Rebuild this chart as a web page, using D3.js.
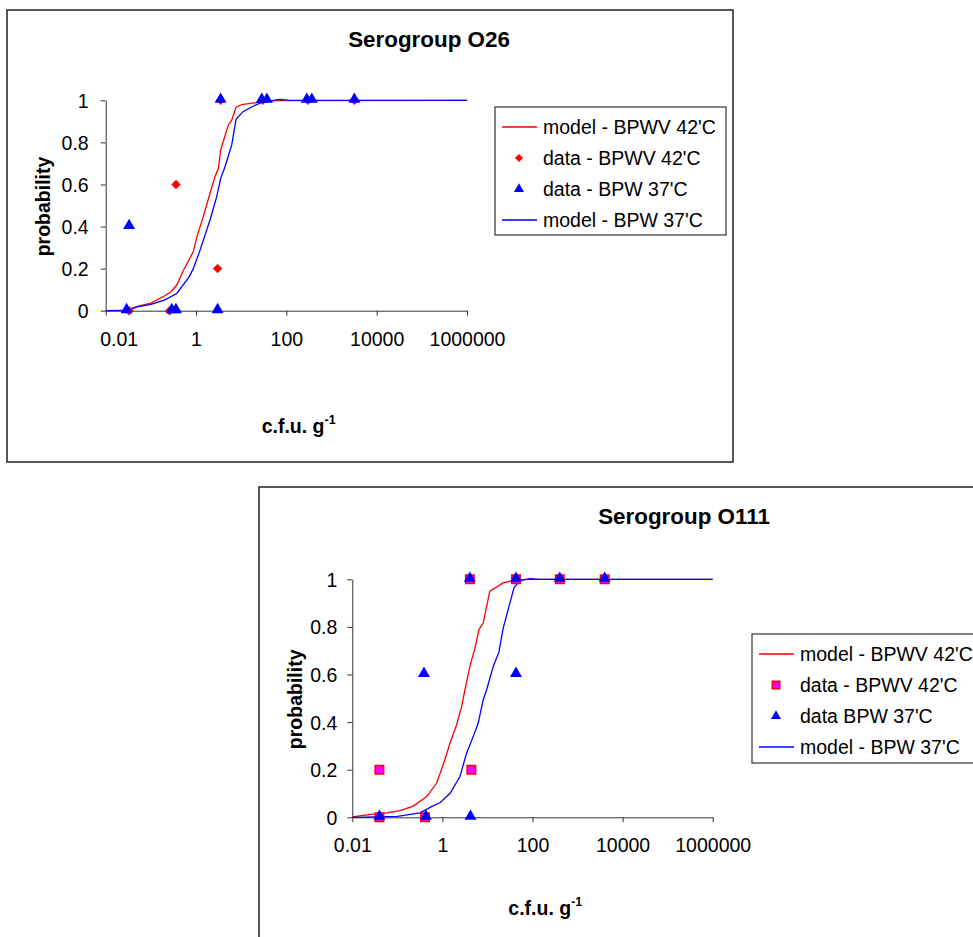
<!DOCTYPE html>
<html>
<head>
<meta charset="utf-8">
<script src="https://cdn.jsdelivr.net/npm/d3@7"></script>
<style>
  html, body { margin: 0; padding: 0; background: #fff; }
  svg { display: block; font-family: "Liberation Sans", Arial, sans-serif; }
</style>
</head>
<body>
<svg id="chart" width="973" height="937"></svg>
<script>
// ---------- shared axis data ----------
const xTickValues = [0.01, 1, 100, 10000, 1000000];
const xTickLabels = ["0.01", "1", "100", "10000", "1000000"];
const yTickValues = [0, 0.2, 0.4, 0.6, 0.8, 1];
const yTickLabels = ["0", "0.2", "0.4", "0.6", "0.8", "1"];
const xAxisTitle = "c.f.u. g";
const xAxisTitleSup = "-1";
const yAxisTitle = "probability";

// ---------- Serogroup O26 ----------
const o26Title = "Serogroup O26";
const o26Legend = ["model - BPWV 42'C", "data - BPWV 42'C", "data - BPW 37'C", "model - BPW 37'C"];
// model curves: [c.f.u. g-1, probability]
const o26ModelBPWV = [[0.01,0],[0.03,0.003],[0.05,0.02],[0.1,0.036],[0.2,0.07],[0.28,0.09],[0.374,0.122],[0.52,0.19],[0.87,0.28],[1.04,0.35],[1.45,0.447],[2.04,0.558],[2.63,0.637],[3.12,0.677],[3.52,0.764],[5.19,0.883],[6.18,0.906],[7.69,0.967],[10.3,0.98],[22.1,0.989],[61,0.998],[1000000,1]];
const o26ModelBPW = [[0.01,0],[0.03,0.002],[0.05,0.018],[0.1,0.03],[0.2,0.05],[0.374,0.082],[0.7,0.16],[0.87,0.2],[1.23,0.288],[2.04,0.431],[2.87,0.542],[3.52,0.629],[4.38,0.684],[6.18,0.788],[7.69,0.91],[11,0.946],[18.6,0.973],[31,0.993],[72,1.004],[121,1],[1000000,1]];
// observed data
const o26DataBPWV = [[0.033,0],[0.26,0],[0.36,0.6],[3.0,0.2],[3.5,1],[30,1],[300,1],[3200,1]];
const o26DataBPW = [[0.029,0],[0.033,0.4],[0.29,0],[0.36,0],[3.0,0],[3.5,1],[28.5,1],[37,1],[283,1],[366,1],[3200,1]];

// ---------- Serogroup O111 ----------
const o111Title = "Serogroup O111";
const o111Legend = ["model - BPWV 42'C", "data - BPWV 42'C", "data BPW 37'C", "model - BPW 37'C"];
const o111ModelBPWV = [[0.01,0.002],[0.029,0.013],[0.058,0.019],[0.114,0.028],[0.225,0.047],[0.447,0.087],[0.743,0.143],[1.13,0.241],[1.47,0.311],[2.06,0.388],[2.67,0.465],[3.16,0.535],[4.07,0.633],[5.26,0.71],[6.5,0.79],[8.03,0.815],[9.55,0.885],[11.3,0.95],[22.3,0.985],[44,0.998],[87,1],[1000000,1]];
const o111ModelBPW = [[0.01,0],[0.1,0.004],[0.317,0.019],[0.575,0.045],[0.88,0.061],[1.47,0.1],[2.44,0.17],[3.44,0.269],[4.82,0.339],[6.22,0.395],[8.03,0.493],[9.55,0.535],[13.4,0.633],[18,0.695],[22.3,0.794],[30,0.885],[39,0.965],[52,0.994],[87,1.003],[145,1],[1000000,1]];
const o111DataBPWV = [[0.04,0.2],[0.04,0],[0.41,0],[4.07,1],[4.4,0.2],[43,1],[403,1],[4000,1]];
const o111DataBPW = [[0.04,0],[0.39,0.6],[0.43,0],[4.07,1],[4.2,0],[43,0.6],[43,1],[403,1],[4000,1]];

// ---------- drawing ----------
const svg = d3.select("#chart");
const FONT = 19.5;

function drawChart(cfg) {
  const g = svg.append("g");
  // outer frame
  g.append("rect")
    .attr("x", cfg.frame[0]).attr("y", cfg.frame[1])
    .attr("width", cfg.frame[2]).attr("height", cfg.frame[3])
    .attr("fill", "#fff").attr("stroke", "#222").attr("stroke-width", 1.5);

  const x = d3.scaleLog().domain([0.01, 1000000]).range([cfg.plot[0], cfg.plot[1]]);
  const y = d3.scaleLinear().domain([0, 1]).range([cfg.plot[3], cfg.plot[2]]);

  // title
  g.append("text")
    .attr("x", cfg.titleX).attr("y", cfg.frame[1] + 37)
    .attr("text-anchor", "middle").attr("font-weight", "bold")
    .attr("font-size", 22.4).text(cfg.title);

  // axes
  const xAxis = d3.axisBottom(x).tickValues(xTickValues)
    .tickFormat((d, i) => xTickLabels[i]).tickSizeInner(5).tickSizeOuter(0);
  const gx = g.append("g").attr("transform", `translate(0,${y(0)})`).call(xAxis);
  gx.selectAll("text").attr("font-size", FONT).attr("fill", "#000")
    .attr("font-family", null).attr("y", 21).attr("dy", "0.71em")
    .attr("x", (d, i) => i === 0 ? cfg.firstLabelShift : 0);
  gx.selectAll("line, path").attr("stroke", "#333");

  const yAxis = d3.axisLeft(y).tickValues(yTickValues)
    .tickFormat((d, i) => yTickLabels[i]).tickSizeInner(5).tickSizeOuter(0);
  const gy = g.append("g").attr("transform", `translate(${x(0.01)},0)`).call(yAxis);
  gy.selectAll("text").attr("font-size", FONT).attr("fill", "#000")
    .attr("font-family", null).attr("x", -cfg.yLabelGap).attr("dy", "0.36em");
  gy.selectAll("line, path").attr("stroke", "#333");

  // axis titles
  const xt = g.append("text")
    .attr("x", x(0.01) + 156).attr("y", y(0) + cfg.xTitleOffset)
    .attr("font-weight", "bold").attr("font-size", FONT);
  xt.append("tspan").text(xAxisTitle);
  xt.append("tspan").attr("font-size", 12.5).attr("dy", -9).text(xAxisTitleSup);

  g.append("text")
    .attr("transform", `translate(${cfg.frame[0] + 43},${(y(0) + y(1)) / 2 + 1}) rotate(-90)`)
    .attr("text-anchor", "middle").attr("font-weight", "bold").attr("font-size", FONT)
    .text(yAxisTitle);

  const line = d3.line().x(d => x(d[0])).y(d => y(d[1]));
  g.append("path").datum(cfg.modelA).attr("d", line)
    .attr("fill", "none").attr("stroke", "#ff0000").attr("stroke-width", 1.3);
  g.append("path").datum(cfg.modelB).attr("d", line)
    .attr("fill", "none").attr("stroke", "#0000ff").attr("stroke-width", 1.3);

  const markerA = cfg.squareMarkers
    ? d3.symbol().type(d3.symbolSquare).size(72)
    : d3.symbol().type(d3.symbolSquare).size(44);
  const rot = cfg.squareMarkers ? "" : " rotate(45)";
  const triangle = d3.symbol().type(d3.symbolTriangle).size(62);

  g.append("g").selectAll("path").data(cfg.dataA).join("path")
    .attr("transform", d => `translate(${x(d[0])},${y(d[1])})${rot}`)
    .attr("d", markerA)
    .attr("fill", cfg.squareMarkers ? "#ff00ff" : "#ff0000")
    .attr("stroke", "#ff0000").attr("stroke-width", cfg.squareMarkers ? 1.5 : 0);

  g.append("g").selectAll("path").data(cfg.dataB).join("path")
    .attr("transform", d => `translate(${x(d[0])},${y(d[1]) - 1})`)
    .attr("d", triangle).attr("fill", "#0000ff");

  // legend
  const L = cfg.legend;
  g.append("rect").attr("x", L.x).attr("y", L.y).attr("width", L.w).attr("height", L.h)
    .attr("fill", "#fff").attr("stroke", "#333").attr("stroke-width", 1.2);
  const rows = [0, 1, 2, 3].map(i => L.y + 20 + i * 31);
  const lg = g.append("g");
  lg.append("line").attr("x1", L.x + 7).attr("x2", L.x + 42).attr("y1", rows[0]).attr("y2", rows[0])
    .attr("stroke", "#ff0000").attr("stroke-width", 1.3);
  lg.append("path").attr("transform", `translate(${L.x + 24},${rows[1]})${rot}`)
    .attr("d", cfg.squareMarkers ? d3.symbol().type(d3.symbolSquare).size(56) : d3.symbol().type(d3.symbolSquare).size(34))
    .attr("fill", cfg.squareMarkers ? "#ff00ff" : "#ff0000")
    .attr("stroke", "#ff0000").attr("stroke-width", cfg.squareMarkers ? 1.5 : 0);
  lg.append("path").attr("transform", `translate(${L.x + 24},${rows[2]})`)
    .attr("d", d3.symbol().type(d3.symbolTriangle).size(44)).attr("fill", "#0000ff");
  lg.append("line").attr("x1", L.x + 7).attr("x2", L.x + 42).attr("y1", rows[3]).attr("y2", rows[3])
    .attr("stroke", "#0000ff").attr("stroke-width", 1.3);
  lg.selectAll("text.lt").data(cfg.legendLabels).join("text")
    .attr("class", "lt")
    .attr("x", L.x + 48).attr("y", (d, i) => rows[i] + 7)
    .attr("font-size", FONT).text(d => d);
}

drawChart({
  frame: [7, 10, 726, 452],
  plot: [105.7, 467, 100.3, 310.7],
  titleX: 429,
  yLabelGap: 17,
  firstLabelShift: 13,
  xTitleOffset: 122,
  title: o26Title,
  modelA: o26ModelBPWV, modelB: o26ModelBPW,
  dataA: o26DataBPWV, dataB: o26DataBPW,
  squareMarkers: false,
  legend: { x: 495, y: 107, w: 231, h: 128 },
  legendLabels: o26Legend
});

drawChart({
  frame: [259, 487, 726, 460],
  plot: [352.3, 712.7, 579.3, 817.3],
  titleX: 684,
  yLabelGap: 15,
  firstLabelShift: 0,
  xTitleOffset: 98,
  title: o111Title,
  modelA: o111ModelBPWV, modelB: o111ModelBPW,
  dataA: o111DataBPWV, dataB: o111DataBPW,
  squareMarkers: true,
  legend: { x: 752, y: 634, w: 240, h: 129 },
  legendLabels: o111Legend
});
</script>
</body>
</html>
